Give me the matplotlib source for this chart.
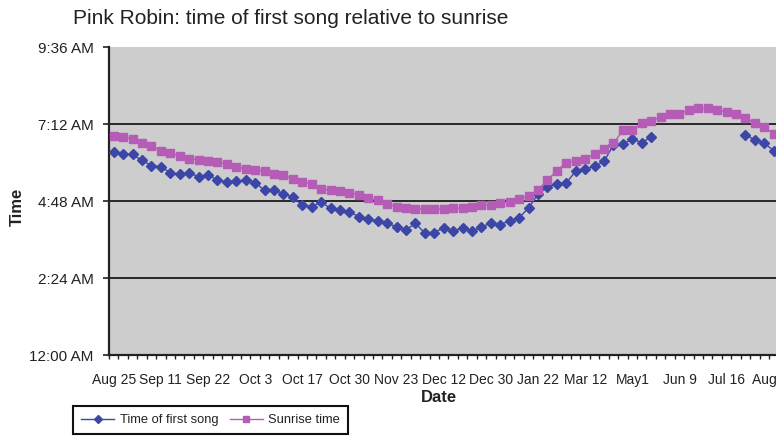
import numpy as np
import matplotlib
matplotlib.use("Agg")
import matplotlib.pyplot as plt
from matplotlib.ticker import FixedLocator, FuncFormatter

plt.rcParams['font.family'] = ['Liberation Sans', 'DejaVu Sans']

# one value per recording day, times as H:MM (None = no recording)
first_song = [
    "6:19", "6:15", "6:15", "6:04", "5:54", "5:52", "5:41", "5:38", "5:41", "5:33",
    "5:37", "5:27", "5:24", "5:25", "5:27", "5:22", "5:08", "5:08", "5:02", "4:55",
    "4:40", "4:37", "4:46", "4:34", "4:31", "4:27", "4:19", "4:15", "4:10", "4:06",
    "4:00", "3:54", "4:06", "3:48", "3:49", "3:58", "3:52", "3:58", "3:52", "3:59",
    "4:07", "4:04", "4:11", "4:17", "4:35", "5:01", "5:14", "5:20", "5:22", "5:44",
    "5:48", "5:53", "6:02", "6:33", "6:35", "6:44", "6:37", "6:48", None, None,
    None, None, None, None, None, None, None, "6:51", "6:43", "6:36",
    "6:22",
]
sunrise = [
    "6:50", "6:48", "6:44", "6:37", "6:31", "6:22", "6:18", "6:12", "6:07", "6:05",
    "6:03", "6:01", "5:57", "5:52", "5:48", "5:46", "5:44", "5:39", "5:36", "5:29",
    "5:24", "5:20", "5:10", "5:08", "5:06", "5:03", "4:59", "4:53", "4:50", "4:43",
    "4:37", "4:34", "4:33", "4:33", "4:33", "4:33", "4:34", "4:35", "4:36", "4:40",
    "4:41", "4:44", "4:46", "4:52", "4:57", "5:09", "5:27", "5:45", "6:00", "6:03",
    "6:07", "6:16", "6:25", "6:36", "7:00", "7:01", "7:13", "7:18", "7:25", "7:31",
    "7:31", "7:38", "7:41", "7:41", "7:38", "7:34", "7:31", "7:23", "7:14", "7:06",
    "6:53",
]
# every fifth recording day gets a label
date_labels = ["Aug 25", "Sep 11", "Sep 22", "Oct 3", "Oct 17", "Oct 30", "Nov 23",
               "Dec 12", "Dec 30", "Jan 22", "Mar 12", "May1", "Jun 9", "Jul 16",
               "Aug 25"]
time_ticks = [0, 2.4, 4.8, 7.2, 9.6]


def to_hours(t):
    if t is None:
        return np.nan
    h, m = t.split(":")
    return int(h) + int(m) / 60


def clock(h, pos=None):
    total = int(round(h * 60))
    hh, mm = divmod(total, 60)
    hh12 = hh % 12 or 12
    return f"{hh12}:{mm:02d} {'AM' if hh < 12 else 'PM'}"


song = np.array([to_hours(t) for t in first_song])
sun = np.array([to_hours(t) for t in sunrise])
x = np.arange(len(sun))

blue = '#3b46a6'
pink = '#b55cb7'
ink = '#222222'

fig = plt.figure(figsize=(7.76, 4.36), dpi=100)
ax = fig.add_axes([109 / 776, 81 / 436, 669.5 / 776, 308 / 436])
ax.set_facecolor('#cdcdcd')

ax.plot(x, song, color=blue, lw=1, marker='D', ms=4.8, mec=blue, mfc=blue,
        label='Time of first song', zorder=3)
ax.plot(x, sun, color=pink, lw=1, marker='s', ms=5.2, mec=pink, mfc=pink,
        label='Sunrise time', zorder=3)

ax.set_xlim(-0.5, 70.5)
ax.set_ylim(0, 9.6)

for g in time_ticks[1:-1]:
    ax.axhline(g, color='#1a1a1a', lw=1.3, zorder=1)

ax.yaxis.set_major_locator(FixedLocator(time_ticks))
ax.yaxis.set_major_formatter(FuncFormatter(clock))
ax.tick_params(axis='y', direction='out', length=4, width=1.2, color=ink,
               labelsize=11, pad=7, labelcolor=ink)

ax.set_xticks(np.arange(0, len(date_labels) * 5, 5))
ax.set_xticklabels(date_labels)
ax.set_xticks(np.arange(-0.5, 71, 1), minor=True)
ax.tick_params(axis='x', which='major', length=0, labelsize=10, pad=13,
               labelcolor=ink)
ax.tick_params(axis='x', which='minor', direction='out', length=3, width=1,
               color=ink)

for side in ('top', 'right'):
    ax.spines[side].set_visible(False)
for side in ('left', 'bottom'):
    ax.spines[side].set_color(ink)
    ax.spines[side].set_linewidth(1.6)

fig.text(73 / 776, 1 - 19 / 436, 'Pink Robin: time of first song relative to sunrise',
         fontsize=15, color=ink, ha='left', va='center')
fig.text(439 / 776, 1 - 397 / 436, 'Date', fontsize=12, fontweight='bold',
         color=ink, ha='center', va='center')
fig.text(17 / 776, 1 - 207 / 436, 'Time', fontsize=12, fontweight='bold',
         color=ink, ha='center', va='center', rotation=90)

leg = fig.legend(loc='lower left', bbox_to_anchor=(73 / 776, 2 / 436), ncol=2,
                 fontsize=9.3, frameon=True, fancybox=False, framealpha=1,
                 edgecolor='#111111', handlelength=2.6, handletextpad=0.4,
                 columnspacing=0.9, borderpad=0.6, borderaxespad=0,
                 markerscale=0.9)
leg.get_frame().set_linewidth(1.5)
for t in leg.get_texts():
    t.set_color(ink)

fig.savefig('out.png', dpi=100)
